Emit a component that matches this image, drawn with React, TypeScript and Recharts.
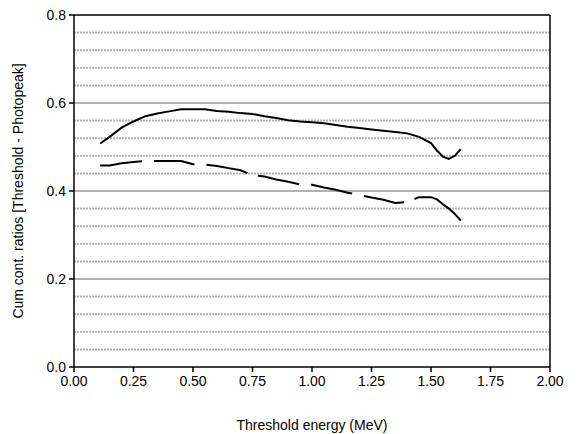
import React from 'react';
import { LineChart, Line, XAxis, YAxis, ReferenceLine, Label } from 'recharts';

// threshold energy (MeV)
const energy = [0.11, 0.15, 0.2, 0.25, 0.3, 0.35, 0.4, 0.45, 0.5, 0.55, 0.6, 0.65, 0.7, 0.75, 0.8, 0.85, 0.9, 0.95, 1.0, 1.05, 1.1, 1.15, 1.2, 1.25, 1.3, 1.35, 1.4, 1.45, 1.5, 1.525, 1.55, 1.575, 1.6, 1.625];
const upper = [0.508, 0.523, 0.544, 0.558, 0.57, 0.576, 0.581, 0.586, 0.586, 0.586, 0.582, 0.58, 0.577, 0.575, 0.57, 0.566, 0.561, 0.558, 0.556, 0.554, 0.55, 0.546, 0.543, 0.54, 0.537, 0.534, 0.531, 0.523, 0.509, 0.492, 0.478, 0.473, 0.48, 0.495];
const lower = [0.458, 0.458, 0.463, 0.466, 0.468, 0.468, 0.468, 0.468, 0.461, 0.46, 0.457, 0.452, 0.447, 0.436, 0.433, 0.426, 0.421, 0.415, 0.414, 0.408, 0.403, 0.396, 0.391, 0.385, 0.38, 0.373, 0.375, 0.386, 0.386, 0.381, 0.37, 0.36, 0.348, 0.333];

const xTicks = [0, 0.25, 0.5, 0.75, 1.0, 1.25, 1.5, 1.75, 2.0];
const yTicks = [0, 0.2, 0.4, 0.6, 0.8];
const majorGrid = [0.2, 0.4, 0.6];
const minorGrid = [0.04, 0.08, 0.12, 0.16, 0.24, 0.28, 0.32, 0.36, 0.44, 0.48, 0.52, 0.56, 0.64, 0.68, 0.72, 0.76];

const data = energy.map((e, i) => ({ e, upper: upper[i], lower: lower[i] }));

const font = '"Liberation Sans", Arial, sans-serif';
const tickStyle = { fill: '#000', fontSize: 14, fontFamily: font };

export default function App() {
  return (
    <div style={{ position: 'absolute', left: 0, top: 0, background: '#fff' }}>
      <LineChart width={578} height={434} data={data} margin={{ top: 15, right: 0, bottom: 0, left: 0 }}>
        <XAxis
          dataKey="e"
          type="number"
          domain={[0, 2]}
          ticks={xTicks}
          tickFormatter={(v: number) => v.toFixed(2)}
          tick={tickStyle}
          tickSize={5}
          tickMargin={4}
          height={67}
          stroke="#000"
          strokeWidth={1.5}
        >
          <Label value="Threshold energy (MeV)" position="insideBottom" offset={4} style={{ fill: '#000', fontSize: 14, fontFamily: font }} />
        </XAxis>
        <YAxis
          yAxisId="l"
          domain={[0, 0.8]}
          ticks={yTicks}
          tickFormatter={(v: number) => v.toFixed(1)}
          tick={tickStyle}
          tickSize={5}
          tickMargin={3}
          width={74}
          stroke="#000"
          strokeWidth={1.5}
        >
          <Label
            value="Cum cont. ratios [Threshold - Photopeak]"
            angle={-90}
            position="insideLeft"
            offset={18}
            style={{ textAnchor: 'middle', fill: '#000', fontSize: 14, fontFamily: font }}
          />
        </YAxis>
        <YAxis
          yAxisId="r"
          orientation="right"
          domain={[0, 0.8]}
          ticks={yTicks}
          tickFormatter={(v: number) => v.toFixed(1)}
          tick={tickStyle}
          tickLine={false}
          tickMargin={8}
          width={28}
          stroke="#000"
          strokeWidth={1.5}
        />
        {minorGrid.map(v => (
          <ReferenceLine key={'m' + v} yAxisId="l" y={v} stroke="#b4b4b4" strokeWidth={2} strokeDasharray="2 1" />
        ))}
        {majorGrid.map(v => (
          <ReferenceLine key={'M' + v} yAxisId="l" y={v} stroke="#999" strokeWidth={1.5} />
        ))}
        <ReferenceLine yAxisId="l" y={0.8} stroke="#000" strokeWidth={1.5} />
        <Line yAxisId="l" dataKey="upper" type="linear" stroke="#000" strokeWidth={2} dot={false} isAnimationActive={false} />
        <Line
          yAxisId="l"
          dataKey="lower"
          type="linear"
          stroke="#000"
          strokeWidth={2}
          strokeDasharray="42 12 41 12 42 11 42 12 42 12 41 11 100"
          dot={false}
          isAnimationActive={false}
        />
      </LineChart>
    </div>
  );
}
